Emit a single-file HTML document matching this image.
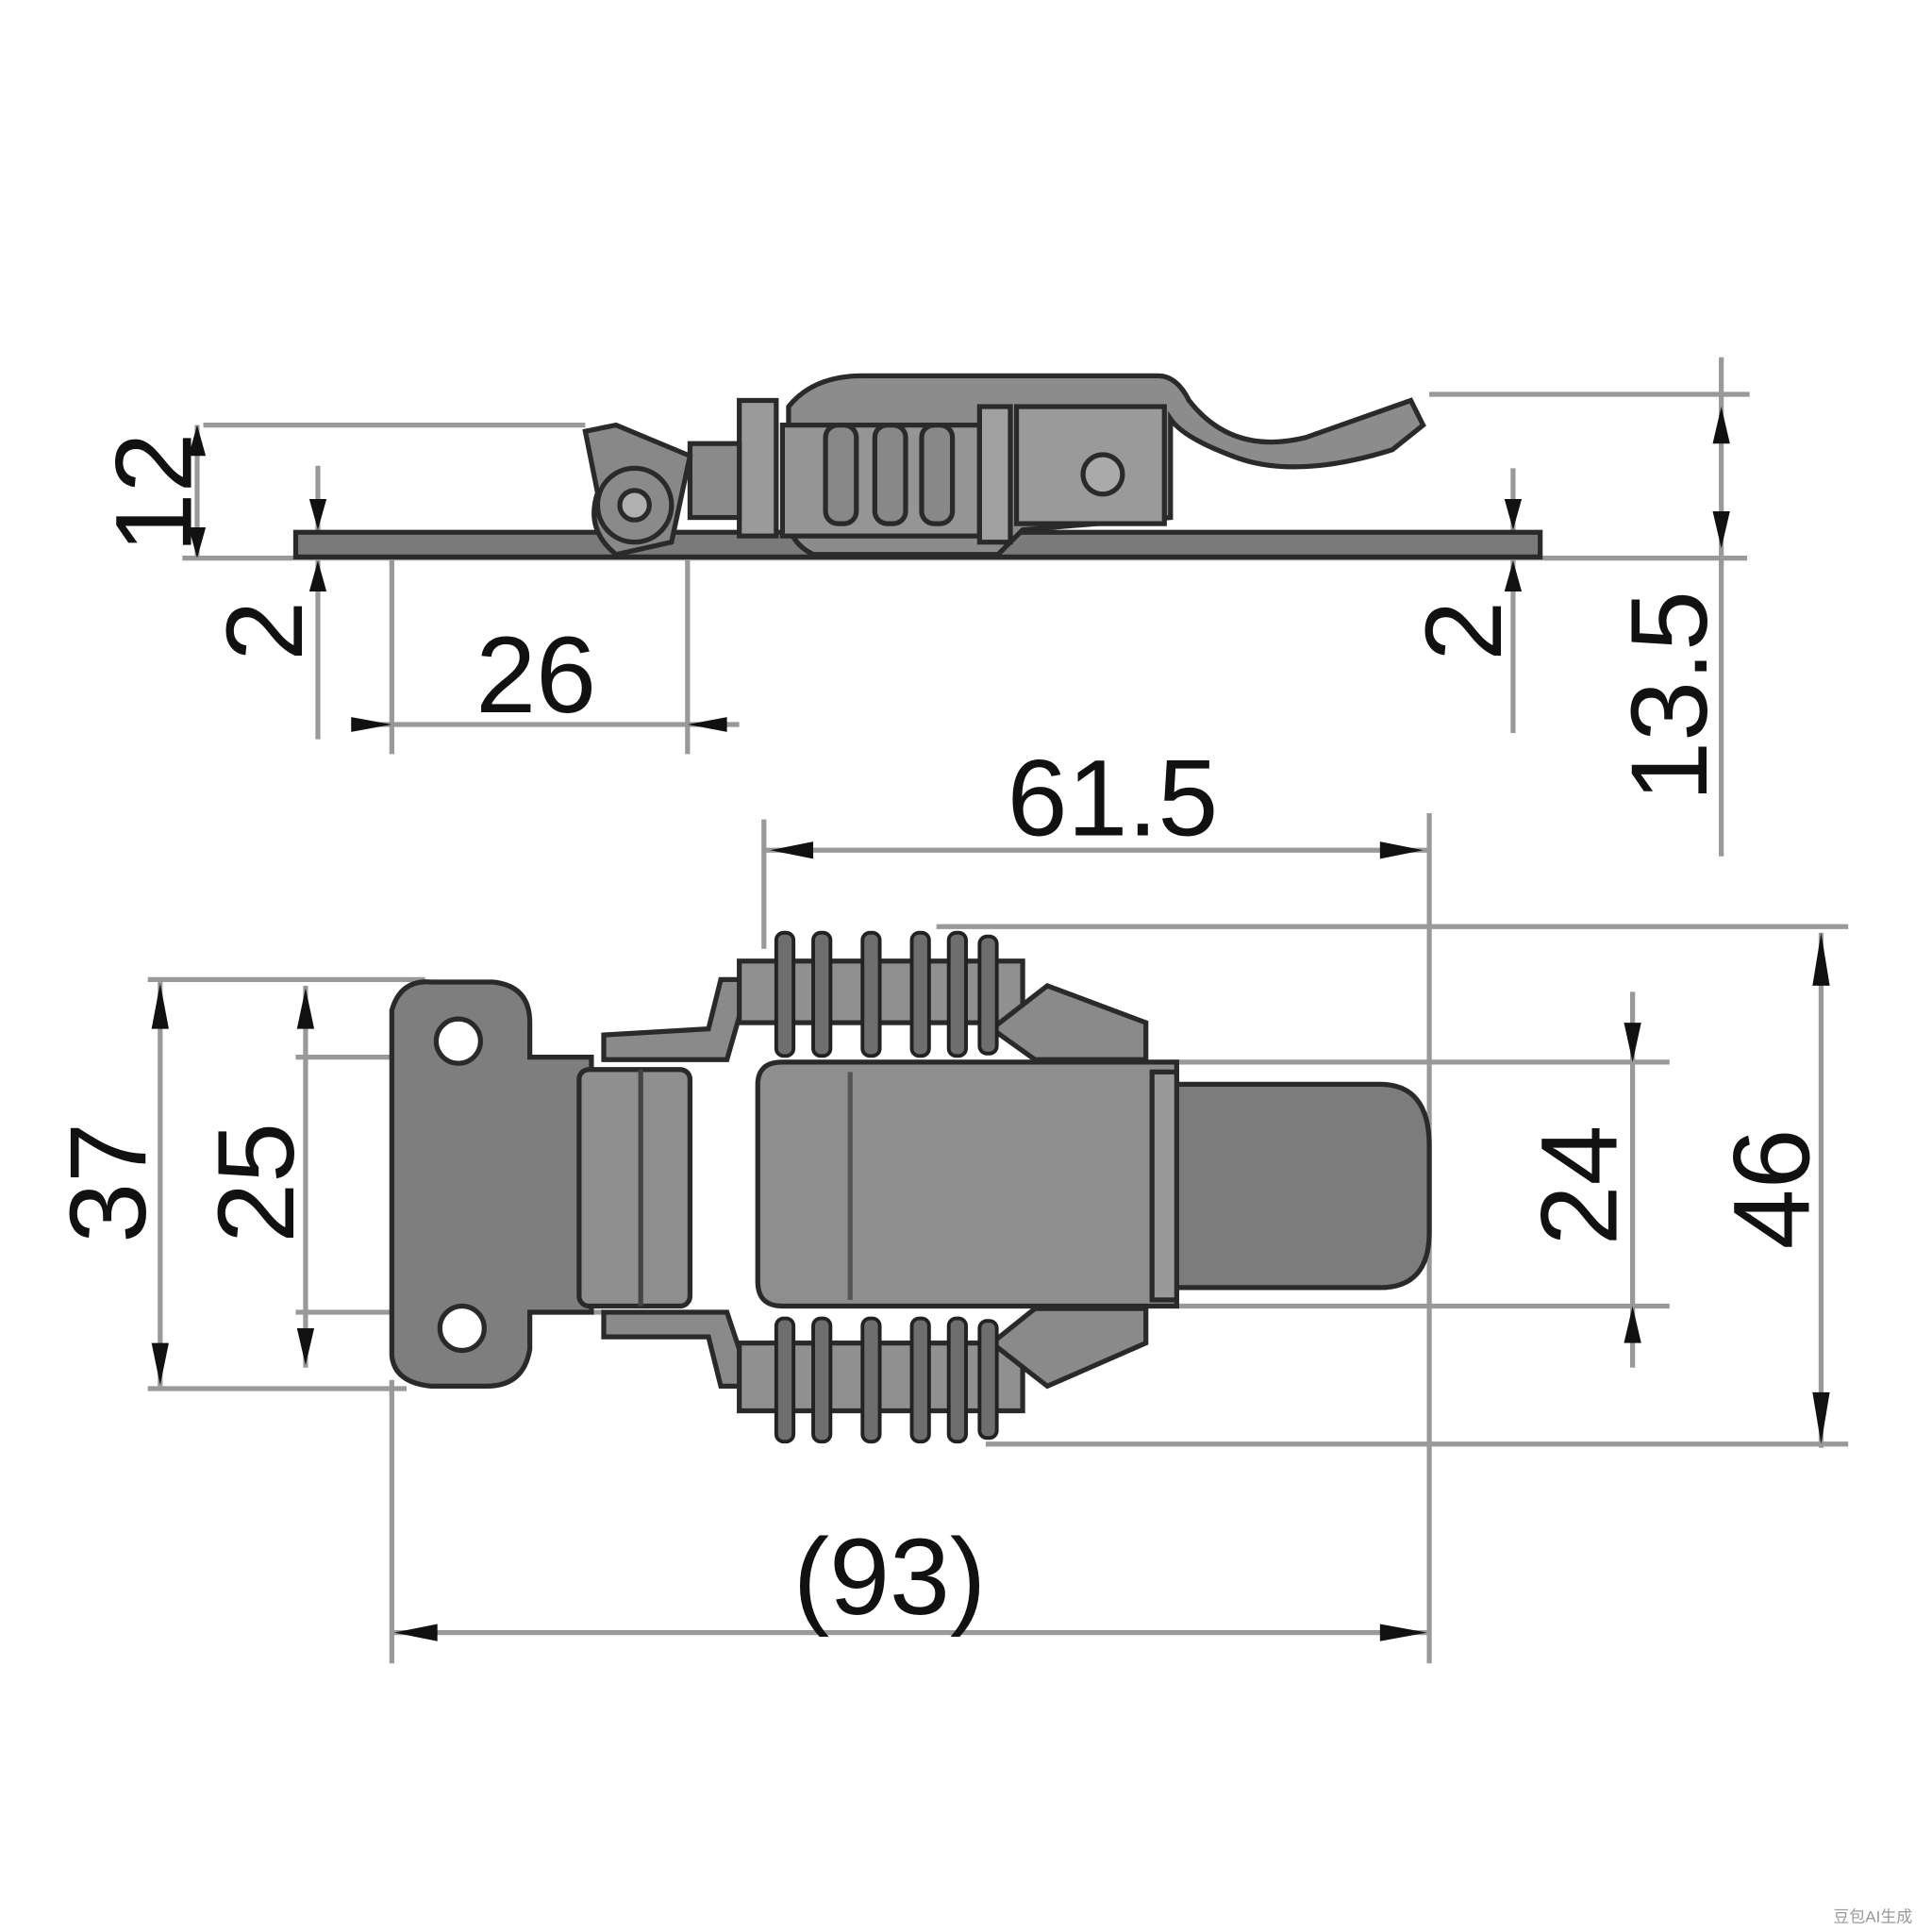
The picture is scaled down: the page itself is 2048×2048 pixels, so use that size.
<!DOCTYPE html>
<html><head><meta charset="utf-8"><style>
html,body{margin:0;padding:0;background:#fff;}
svg{display:block;}
text{font-family:"Liberation Sans","DejaVu Sans",sans-serif;fill:#111;}
</style></head><body>
<svg width="2048" height="2048" viewBox="0 0 1568 1568" xmlns="http://www.w3.org/2000/svg">
<rect width="1568" height="1568" fill="#fff"/>
<g stroke="#999" stroke-width="4" fill="none">
 <!-- top view dims -->
 <line x1="165" y1="345" x2="475" y2="345"/>
 <line x1="148" y1="453" x2="1418" y2="453"/>
 <line x1="160" y1="345" x2="160" y2="453"/>
 <line x1="258" y1="378" x2="258" y2="600"/>
 <line x1="285" y1="588" x2="600" y2="588"/>
 <line x1="318" y1="453" x2="318" y2="612"/>
 <line x1="558" y1="440" x2="558" y2="612"/>
 <line x1="1160" y1="320" x2="1420" y2="320"/>
 <line x1="1397" y1="290" x2="1397" y2="695"/>
 <line x1="1228" y1="380" x2="1228" y2="595"/>
 <!-- bottom view dims -->
 <line x1="620" y1="690" x2="1160" y2="690"/>
 <line x1="620" y1="665" x2="620" y2="770"/>
 <line x1="1160" y1="660" x2="1160" y2="1350"/>
 <line x1="318" y1="1325" x2="1160" y2="1325"/>
 <line x1="318" y1="1120" x2="318" y2="1350"/>
 <line x1="130" y1="795" x2="130" y2="1125"/>
 <line x1="120" y1="795" x2="345" y2="795"/>
 <line x1="120" y1="1127" x2="330" y2="1127"/>
 <line x1="248" y1="800" x2="248" y2="1110"/>
 <line x1="240" y1="858" x2="480" y2="858"/>
 <line x1="240" y1="1065" x2="490" y2="1065"/>
 <line x1="1325" y1="805" x2="1325" y2="1110"/>
 <line x1="950" y1="862" x2="1355" y2="862"/>
 <line x1="950" y1="1060" x2="1355" y2="1060"/>
 <line x1="1478" y1="757" x2="1478" y2="1175"/>
 <line x1="760" y1="752" x2="1500" y2="752"/>
 <line x1="800" y1="1172" x2="1500" y2="1172"/>
</g>
<g fill="#111">
 <polygon points="160,345 153,370 167,370"/><polygon points="160,453 153,428 167,428"/>
 <polygon points="258,430 251,405 265,405"/><polygon points="258,455 251,480 265,480"/>
 <polygon points="318,588 285,582 285,594"/><polygon points="558,588 590,582 590,594"/>
 <polygon points="1228,430 1221,405 1235,405"/><polygon points="1228,455 1221,480 1235,480"/>
 <polygon points="1397,330 1390,360 1404,360"/><polygon points="1397,445 1390,415 1404,415"/>
 <polygon points="625,690 660,683 660,697"/><polygon points="1155,690 1120,683 1120,697"/>
 <polygon points="320,1325 355,1318 355,1332"/><polygon points="1158,1325 1120,1318 1120,1332"/>
 <polygon points="130,798 123,835 137,835"/><polygon points="130,1124 123,1090 137,1090"/>
 <polygon points="248,802 241,835 255,835"/><polygon points="248,1108 241,1078 255,1078"/>
 <polygon points="1325,862 1318,830 1332,830"/><polygon points="1325,1060 1318,1090 1332,1090"/>
 <polygon points="1478,757 1471,800 1485,800"/><polygon points="1478,1172 1471,1130 1485,1130"/>
</g>
<!-- top view part -->
<g stroke="#2a2a2a" stroke-width="4" fill="#8c8c8c">
 <rect x="240" y="432" width="1010" height="20" fill="#7a7a7a"/>
 <path d="M640,330 Q660,305 700,305 L940,305 Q955,305 965,325 Q1000,370 1060,355 L1145,325 L1155,345 L1130,365 Q1050,390 1000,370 Q960,355 950,340 L950,420 L830,430 L810,450 L660,450 Q640,440 640,420 Z"/>
 <rect x="825" y="330" width="120" height="95" fill="#9a9a9a"/>
 <circle cx="895" cy="385" r="16" fill="#aaa"/>
 <rect x="600" y="325" width="30" height="110" fill="#9a9a9a"/>
 <rect x="635" y="345" width="160" height="90" fill="#959595"/>
 <rect x="670" y="345" width="25" height="80" rx="10" fill="#888"/>
 <rect x="710" y="345" width="25" height="80" rx="10" fill="#888"/>
 <rect x="748" y="345" width="25" height="80" rx="10" fill="#888"/>
 <rect x="795" y="330" width="25" height="110" fill="#a0a0a0"/>
 <rect x="560" y="360" width="40" height="60" fill="#8a8a8a"/>
 <path d="M475,350 L500,345 L560,370 L545,440 L500,450 Q475,430 485,400 Z" fill="#888"/>
 <circle cx="515" cy="410" r="30" fill="#8a8a8a"/>
 <circle cx="515" cy="410" r="12" fill="#b0b0b0"/>
</g>
<!-- bottom view part -->
<g stroke="#2a2a2a" stroke-width="4" fill="#858585">
 <path d="M318,820 Q325,795 350,797 L400,797 Q430,800 430,830 L430,858 L480,858 L480,1065 L430,1065 L430,1095 Q425,1125 395,1125 L350,1125 Q320,1122 318,1100 Z" fill="#7e7e7e"/>
 <circle cx="372" cy="845" r="18" fill="#fff"/>
 <circle cx="375" cy="1078" r="18" fill="#fff"/>
 <rect x="470" y="868" width="90" height="192" rx="8" fill="#8e8e8e"/>
 <line x1="520" y1="868" x2="520" y2="1060" stroke="#444"/>
 <path d="M490,840 L490,860 L590,860 L600,825 L610,825 L610,795 L585,795 L575,835 Z" fill="#8a8a8a"/>
 <path d="M490,1065 L490,1085 L575,1085 L585,1125 L610,1125 L610,1095 L600,1095 L590,1065 Z" fill="#8a8a8a"/>
 <rect x="600" y="780" width="230" height="50" fill="#909090"/>
 <rect x="600" y="1090" width="230" height="55" fill="#909090"/>
 <path d="M805,835 L850,800 L930,830 L930,860 L840,860 Z" fill="#8a8a8a"/>
 <path d="M805,1090 L850,1125 L930,1090 L930,1062 L840,1062 Z" fill="#8a8a8a"/>
 <path d="M955,880 L1120,880 Q1160,880 1160,930 L1160,1000 Q1160,1045 1120,1045 L955,1045 Z" fill="#7c7c7c"/>
 <path d="M615,880 Q615,862 635,862 L955,862 L955,1060 L635,1060 Q615,1060 615,1040 Z" fill="#8e8e8e"/>
 <rect x="935" y="870" width="20" height="185" fill="#999"/>
 <line x1="690" y1="870" x2="690" y2="1055" stroke="#555"/>
</g>
<g fill="#6e6e6e" stroke="#222" stroke-width="3">
 <rect x="630" y="757" width="14" height="100" rx="6"/><rect x="660" y="757" width="14" height="100" rx="6"/>
 <rect x="700" y="757" width="14" height="100" rx="6"/><rect x="740" y="757" width="14" height="100" rx="6"/>
 <rect x="770" y="757" width="14" height="100" rx="6"/><rect x="795" y="760" width="14" height="95" rx="6"/>
 <rect x="630" y="1070" width="14" height="100" rx="6"/><rect x="660" y="1070" width="14" height="100" rx="6"/>
 <rect x="700" y="1070" width="14" height="100" rx="6"/><rect x="740" y="1070" width="14" height="100" rx="6"/>
 <rect x="770" y="1070" width="14" height="100" rx="6"/><rect x="795" y="1072" width="14" height="95" rx="6"/>
</g>
<!-- labels -->
<g font-size="88">
 <text x="435" y="578" text-anchor="middle">26</text>
 <text x="903" y="678" text-anchor="middle">61.5</text>
 <text x="722" y="1310" text-anchor="middle">(93)</text>
 <text transform="translate(155,400) rotate(-90)" text-anchor="middle">12</text>
 <text transform="translate(245,512) rotate(-90)" text-anchor="middle">2</text>
 <text transform="translate(1218,512) rotate(-90)" text-anchor="middle">2</text>
 <text transform="translate(1385,565) rotate(-90)" text-anchor="middle">13.5</text>
 <text transform="translate(118,960) rotate(-90)" text-anchor="middle">37</text>
 <text transform="translate(238,960) rotate(-90)" text-anchor="middle">25</text>
 <text transform="translate(1312,962) rotate(-90)" text-anchor="middle">24</text>
 <text transform="translate(1468,965) rotate(-90)" text-anchor="middle">46</text>
</g>
<text x="1520" y="1560" font-size="13" fill="#888" style="fill:#999" text-anchor="middle">豆包AI生成</text>
</svg>
</body></html>
